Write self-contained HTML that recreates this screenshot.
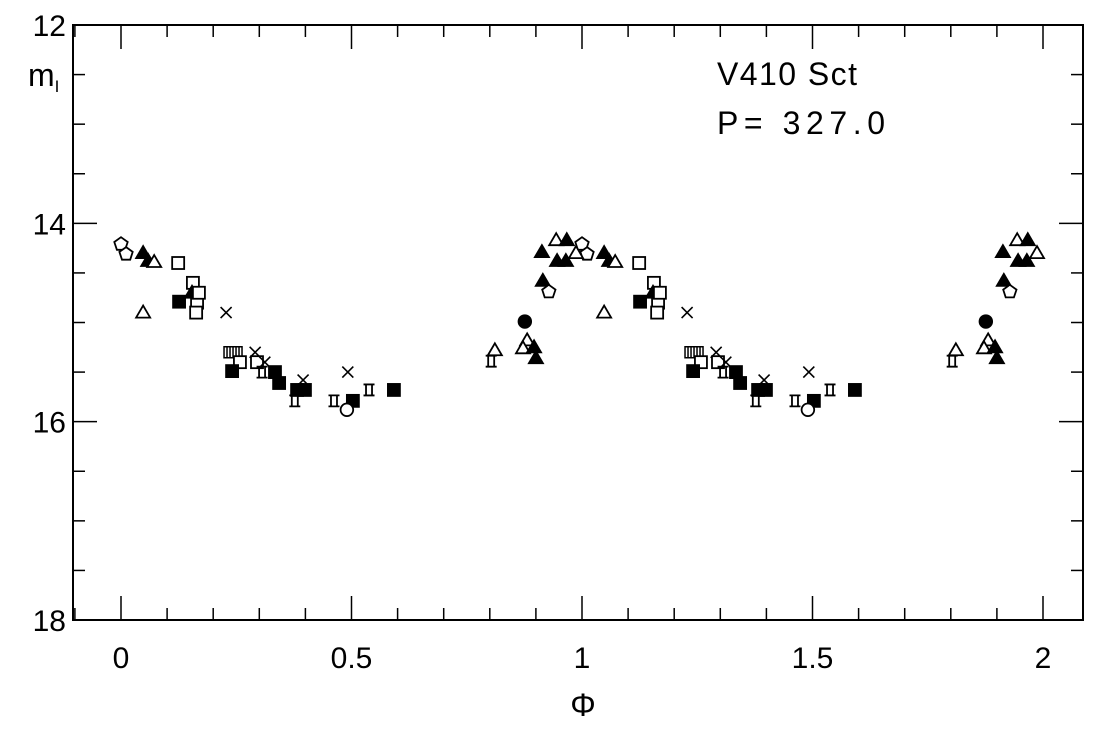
<!DOCTYPE html>
<html><head><meta charset="utf-8"><style>
html,body{margin:0;padding:0;background:#fff;}
svg text{font-family:"Liberation Sans",sans-serif;fill:#000;}
</style></head><body>
<svg id="chart" width="1110" height="732" viewBox="0 0 1110 732" xmlns="http://www.w3.org/2000/svg">
<rect x="0" y="0" width="1110" height="732" fill="#fff"/>
<rect x="73" y="25" width="1010" height="595" fill="none" stroke="#000" stroke-width="2"/>
<g id="ticks"></g>
<g id="marks"></g>
<text x="28" y="86" font-size="32" font-family="Liberation Serif">m<tspan font-size="17" dy="6">I</tspan></text>
<text x="717" y="85" font-size="32" textLength="140">V410  Sct</text>
<text x="717" y="134" font-size="32" textLength="168">P=  327.0</text>
<text x="583" y="716" font-size="32" text-anchor="middle" font-family="Liberation Serif">Φ</text>
</svg>
<script>
const phases=[0.000,0.011,0.048,0.059,0.072,0.048,0.124,0.126,0.156,0.165,0.163,0.154,0.169,0.228,0.243,0.258,0.295,0.291,0.312,0.241,0.306,0.334,0.343,0.395,0.399,0.382,0.377,0.462,0.503,0.490,0.492,0.538,0.592,
0.811,0.803,0.876,0.881,0.872,0.896,0.900,0.915,0.928,0.913,0.944,0.967,0.946,0.965,0.987];
const mags=[14.21,14.31,14.30,14.38,14.39,14.90,14.40,14.79,14.60,14.80,14.90,14.70,14.70,14.90,15.30,15.40,15.40,15.30,15.40,15.49,15.50,15.50,15.61,15.58,15.68,15.68,15.79,15.79,15.79,15.88,15.50,15.68,15.68,
15.28,15.39,14.99,15.18,15.26,15.25,15.36,14.58,14.69,14.29,14.17,14.17,14.38,14.38,14.30];
const symbols=['pent','pent','ftri','ftri','otri','otri','osq','fsq','osq','osq','osq','ftri','osq','x','stripe','osq','osq','x','x','fsq','star','fsq','fsq','x','fsq','fsq','star','star','fsq','ocirc','x','star','fsq',
'otri','star','fcirc','otri','otri','ftri','ftri','ftri','pent','ftri','otri','ftri','ftri','ftri','otri'];
const xTicks=[0,0.5,1,1.5,2];
const xTickLabels=['0','0.5','1','1.5','2'];
const yTicks=[12,14,16,18];
const yTickLabels=['12','14','16','18'];

const X=p=>121+p*461;
const Y=m=>25+(m-12)*99.17;
const NS='http://www.w3.org/2000/svg';
function mk(tag,attrs,parent){const e=document.createElementNS(NS,tag);for(const k in attrs)e.setAttribute(k,attrs[k]);parent.appendChild(e);return e;}
const tg=document.getElementById('ticks');
for(let i=-4;i<=21;i++){const p=i/10;const x=X(p);if(x<74||x>1082)continue;const major=(i%5===0);const L=major?24:12;
 mk('line',{x1:x,y1:620,x2:x,y2:620-L,stroke:'#000','stroke-width':1.5},tg);
 mk('line',{x1:x,y1:25,x2:x,y2:25+L,stroke:'#000','stroke-width':1.5},tg);}
xTicks.forEach((t,i)=>{const e=mk('text',{x:X(t),y:668,'font-size':30,'text-anchor':'middle'},tg);e.textContent=xTickLabels[i];
 
 });
for(let i=0;i<=12;i++){const m=12+i*0.5;const y=Y(m);const major=(i%4===0);const L=major?24:12;
 mk('line',{x1:73,y1:y,x2:73+L,y2:y,stroke:'#000','stroke-width':1.5},tg);
 mk('line',{x1:1083,y1:y,x2:1083-L,y2:y,stroke:'#000','stroke-width':1.5},tg);}
yTicks.forEach((t,i)=>{const e=mk('text',{x:66,y:Y(t)+11,'font-size':30,'text-anchor':'end'},tg);e.textContent=yTickLabels[i];
 
 });

const mg=document.getElementById('marks');
function draw(type,cx,cy){
 const s=6.5;let e;const sw=1.8;
 if(type==='pent'){let pts=[];for(let k=0;k<5;k++){const a=-Math.PI/2+k*2*Math.PI/5;pts.push((cx+7*Math.cos(a)).toFixed(1)+','+(cy+7*Math.sin(a)).toFixed(1));}
  e=mk('polygon',{points:pts.join(' '),fill:'#fff',stroke:'#000','stroke-width':sw},mg);}
 else if(type==='ftri'||type==='otri'){e=mk('polygon',{points:`${cx},${cy-7} ${cx+7},${cy+5} ${cx-7},${cy+5}`,fill:type==='ftri'?'#000':'#fff',stroke:'#000','stroke-width':sw},mg);}
 else if(type==='osq'||type==='fsq'){e=mk('rect',{x:cx-s+0.5,y:cy-s+0.5,width:2*s-1,height:2*s-1,fill:type==='fsq'?'#000':'#fff',stroke:'#000','stroke-width':sw},mg);}
 else if(type==='ocirc'||type==='fcirc'){e=mk('circle',{cx:cx,cy:cy,r:6.3,fill:type==='fcirc'?'#000':'#fff',stroke:'#000','stroke-width':sw},mg);}
 else if(type==='x'){e=mk('path',{d:`M${cx-5.5},${cy-5.5}L${cx+5.5},${cy+5.5}M${cx+5.5},${cy-5.5}L${cx-5.5},${cy+5.5}`,stroke:'#000','stroke-width':1.6,fill:'none'},mg);}
 else if(type==='star'){e=mk('path',{d:`M${cx-5.5},${cy-5.5}L${cx+5.5},${cy-5.5}M${cx-5.5},${cy+5.5}L${cx+5.5},${cy+5.5}M${cx-3},${cy-5.5}L${cx-3},${cy+5.5}M${cx+3},${cy-5.5}L${cx+3},${cy+5.5}`,stroke:'#000','stroke-width':1.8,fill:'none'},mg);}
 else if(type==='stripe'){let d=`M${cx-9},${cy-5.5}h18v11h-18z`;for(let k=-6;k<=6;k+=3)d+=`M${cx+k},${cy-5.5}v11`;
  e=mk('path',{d:d,stroke:'#000','stroke-width':1.5,fill:'#fff'},mg);}
 return e;}
phases.forEach((p,i)=>{[p,p+1].forEach(q=>{const e=draw(symbols[i],X(q),Y(mags[i]));
 
 });});
</script>
</body></html>
